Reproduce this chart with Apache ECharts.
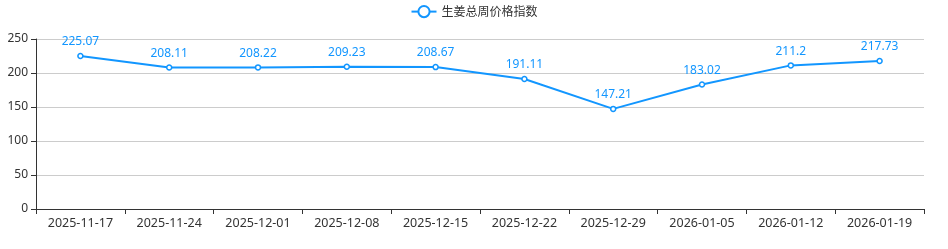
<!DOCTYPE html>
<html><head><meta charset="utf-8">
<script src="https://cdn.jsdelivr.net/npm/echarts@6/dist/echarts.min.js"></script>
<style>html,body{margin:0;padding:0;background:#fff}#c{width:948px;height:249px}</style>
</head><body><div id="c"></div>
<script>
const categories = ['2025-11-17','2025-11-24','2025-12-01','2025-12-08','2025-12-15','2025-12-22','2025-12-29','2026-01-05','2026-01-12','2026-01-19'];
const values = [225.07,208.11,208.22,209.23,208.67,191.11,147.21,183.02,211.2,217.73];
const seriesName = '生姜总周价格指数';
const chart = echarts.init(document.getElementById('c'));
const color = '#1296ff';
const ff = '"Noto Sans", "Noto Sans CJK SC", sans-serif';
chart.setOption({
  animation:false,
  textStyle:{fontFamily:ff},
  legend:{top:0,left:'center',data:[seriesName],textStyle:{color:'#333',fontSize:12,fontFamily:'"Noto Sans CJK SC", sans-serif'},itemWidth:25,itemHeight:14},
  grid:{left:36,right:24,top:39,bottom:40},
  xAxis:{type:'category',data:categories,boundaryGap:true,
    axisLine:{lineStyle:{color:'#333'}},axisTick:{show:true,lineStyle:{color:'#333'}},
    axisLabel:{color:'#333',fontSize:12.5,interval:0,fontFamily:ff}},
  yAxis:{type:'value',min:0,max:250,interval:50,
    axisLine:{show:true,lineStyle:{color:'#333'}},axisTick:{show:true,lineStyle:{color:'#333'}},
    axisLabel:{color:'#333',fontSize:12,fontFamily:ff},
    splitLine:{lineStyle:{color:'#ccc'}}},
  series:[{name:seriesName,type:'line',data:values,color:color,
    symbol:'circle',symbolSize:5,
    itemStyle:{color:'#fff',borderColor:color,borderWidth:1.5},
    lineStyle:{color:color,width:2},
    label:{show:true,position:'top',color:color,fontSize:12,fontFamily:ff}}]
});
</script></body></html>
